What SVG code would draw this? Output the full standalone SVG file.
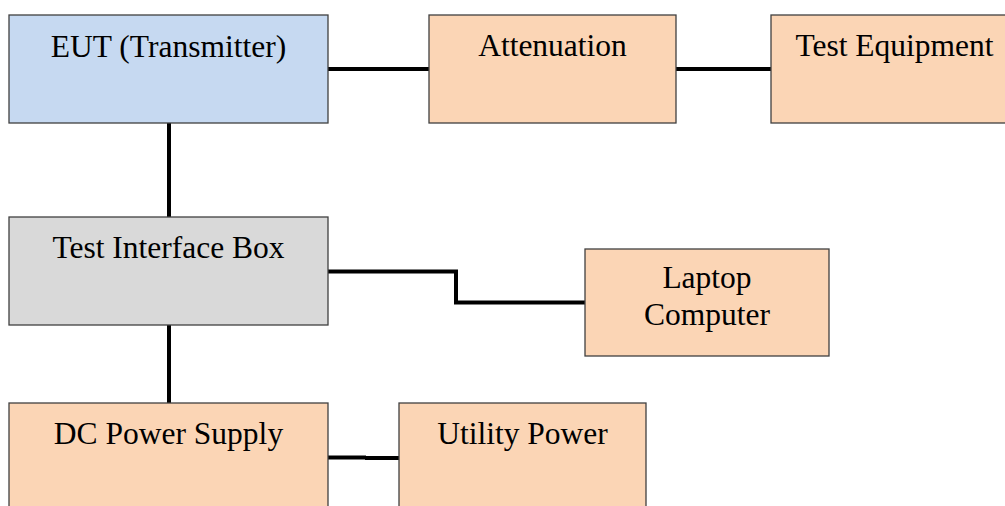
<svg xmlns="http://www.w3.org/2000/svg" width="1005" height="506" viewBox="0 0 1005 506">
<style>
.box{stroke:#404040;stroke-width:1.3}
.blue{fill:#C6D9F1}
.orange{fill:#FBD5B5}
.gray{fill:#D9D9D9}
.lbl{font-family:'Liberation Serif','Times New Roman',serif;font-size:31.5px;fill:#000;text-anchor:middle}
.wire{fill:none;stroke:#000;stroke-width:4}
</style>
<rect width="1005" height="506" fill="#fff"/>
<g id="connectors">
<line class="wire" x1="328" y1="69" x2="429" y2="69"/>
<line class="wire" x1="676" y1="69" x2="771" y2="69"/>
<line class="wire" x1="169" y1="123" x2="169" y2="217"/>
<polyline class="wire" points="328,271.5 456,271.5 456,302.5 585,302.5"/>
<line class="wire" x1="169" y1="325" x2="169" y2="403"/>
<line class="wire" x1="328" y1="457.5" x2="366" y2="457.5"/>
<line class="wire" x1="365" y1="458" x2="399" y2="458"/>
</g>
<g id="eut">
<rect class="box blue" x="9" y="15" width="319" height="108"/>
<text class="lbl" font-family="Liberation Serif, serif" x="168.5" y="57">EUT (Transmitter)</text>
</g>
<g id="attenuation">
<rect class="box orange" x="429" y="15" width="247" height="108"/>
<text class="lbl" font-family="Liberation Serif, serif" x="552.5" y="56">Attenuation</text>
</g>
<g id="test-equipment">
<rect class="box orange" x="771" y="15" width="247" height="108"/>
<text class="lbl" font-family="Liberation Serif, serif" x="894.5" y="56">Test Equipment</text>
</g>
<g id="test-interface-box">
<rect class="box gray" x="9" y="217" width="319" height="108"/>
<text class="lbl" font-family="Liberation Serif, serif" x="168.5" y="258">Test Interface Box</text>
</g>
<g id="laptop">
<rect class="box orange" x="585" y="249" width="244" height="107"/>
<text class="lbl" font-family="Liberation Serif, serif" x="707" y="288">Laptop</text>
<text class="lbl" font-family="Liberation Serif, serif" x="707" y="325">Computer</text>
</g>
<g id="dc-power-supply">
<rect class="box orange" x="9" y="403" width="319" height="110"/>
<text class="lbl" font-family="Liberation Serif, serif" x="168.5" y="444">DC Power Supply</text>
</g>
<g id="utility-power">
<rect class="box orange" x="399" y="403" width="247" height="110"/>
<text class="lbl" font-family="Liberation Serif, serif" x="522.5" y="444">Utility Power</text>
</g>
</svg>
